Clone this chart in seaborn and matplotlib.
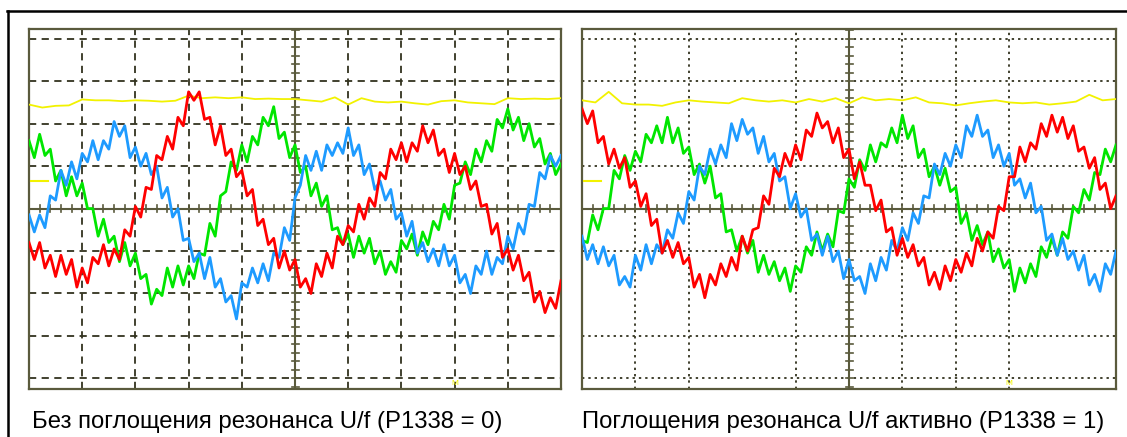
import numpy as np
import pandas as pd
import matplotlib
matplotlib.use('Agg')
import matplotlib.pyplot as plt
from matplotlib.lines import Line2D
import seaborn as sns

# sample index in screen divisions (10 div across, 0.1 div per sample)
t = np.arange(101) / 10
t_yel = np.arange(41) / 4

# --- left scope: P1338 = 0 ---
red_l = [-0.8, -1.2, -0.8, -1.4, -1.1, -1.6, -1.1, -1.55, -1.2, -1.85,
         -1.4, -1.75, -1.15, -1.3, -0.85, -1.35, -0.95, -1.2, -0.5, -0.65,
         0.05, -0.2, 0.5, 0.45, 1.25, 1.15, 1.7, 1.4, 2.15, 1.95,
         2.75, 2.55, 2.75, 2.1, 2.15, 1.5, 1.95, 1.25, 1.4, 0.75,
         0.9, 0.3, 0.45, -0.4, -0.25, -0.85, -0.7, -1.4, -1.0, -1.45,
         -1.2, -1.85, -1.65, -2.0, -1.3, -1.6, -1.05, -1.4, -0.65, -0.85,
         -0.4, -0.55, 0.1, -0.25, 0.25, 0.05, 0.85, 0.7, 1.4, 1.15,
         1.55, 1.1, 1.55, 1.35, 1.95, 1.55, 1.85, 1.25, 1.4, 0.85,
         1.3, 0.8, 1.0, 0.45, 0.65, 0.05, 0.1, -0.6, -0.35, -1.15,
         -0.95, -1.45, -1.1, -1.7, -1.5, -2.2, -1.95, -2.45, -2.1, -2.35,
         -1.7]
green_l = [1.6, 1.2, 1.75, 1.25, 1.4, 0.65, 0.9, 0.3, 0.75, 0.3,
           0.6, 0.0, 0.0, -0.65, -0.25, -0.8, -0.65, -1.25, -0.8, -1.35,
           -1.05, -1.65, -1.55, -2.25, -1.9, -2.05, -1.4, -1.85, -1.35, -1.8,
           -1.35, -1.65, -1.05, -1.1, -0.35, -0.65, 0.3, 0.4, 1.1, 0.9,
           1.5, 1.1, 1.7, 1.5, 2.15, 1.95, 2.4, 1.65, 1.8, 1.2,
           1.5, 0.85, 1.0, 0.3, 0.6, 0.05, 0.3, -0.5, -0.45, -0.85,
           -0.6, -1.15, -0.65, -1.05, -0.7, -1.3, -1.0, -1.55, -1.25, -1.5,
           -0.75, -0.95, -0.6, -1.1, -0.55, -0.85, -0.3, -0.5, 0.1, -0.25,
           0.55, 0.6, 1.1, 0.8, 1.4, 1.1, 1.6, 1.35, 2.1, 1.9,
           2.35, 1.85, 2.15, 1.6, 2.0, 1.45, 1.65, 1.05, 1.3, 0.8,
           1.05]
blue_l = [-0.15, -0.55, -0.15, -0.45, 0.3, 0.2, 0.9, 0.55, 1.1, 0.7,
          1.3, 1.1, 1.6, 1.15, 1.6, 1.4, 2.05, 1.7, 1.95, 1.2,
          1.45, 1.0, 1.3, 0.8, 1.0, 0.25, 0.5, -0.2, 0.0, -0.75,
          -0.7, -1.25, -1.05, -1.65, -1.15, -1.85, -1.65, -2.2, -2.05, -2.6,
          -1.75, -1.85, -1.4, -1.75, -1.3, -1.7, -1.05, -1.15, -0.45, -0.75,
          0.25, 0.55, 1.25, 0.9, 1.35, 0.9, 1.5, 1.25, 1.55, 1.3,
          1.9, 1.25, 1.5, 0.8, 1.05, 0.45, 0.65, 0.2, 0.45, -0.25,
          -0.1, -0.65, -0.3, -1.05, -0.8, -1.25, -0.95, -1.35, -0.85, -1.35,
          -1.1, -1.75, -1.55, -2.0, -1.35, -1.55, -1.0, -1.55, -1.15, -1.3,
          -0.65, -0.95, -0.35, -0.6, 0.1, 0.05, 0.85, 0.7, 1.25, 1.0,
          1.25]
yellow_l = [2.45, 2.38, 2.42, 2.43, 2.57, 2.55, 2.55, 2.53, 2.55, 2.54,
            2.52, 2.54, 2.66, 2.6, 2.62, 2.6, 2.62, 2.58, 2.59, 2.58,
            2.58, 2.55, 2.52, 2.62, 2.45, 2.6, 2.52, 2.5, 2.52, 2.48,
            2.45, 2.53, 2.55, 2.5, 2.48, 2.46, 2.6, 2.58, 2.59, 2.58,
            2.6]

# --- right scope: P1338 = 1 ---
red_r = [2.35, 2.0, 2.3, 1.55, 1.7, 1.05, 1.4, 0.95, 1.2, 0.5,
         0.65, 0.05, 0.35, -0.4, -0.25, -1.05, -0.75, -1.15, -0.8, -1.3,
         -1.15, -1.85, -1.55, -2.1, -1.55, -1.8, -1.3, -1.6, -1.15, -1.45,
         -0.65, -1.0, -0.5, -0.45, 0.3, 0.1, 0.95, 0.75, 1.3, 1.0,
         1.5, 1.15, 1.85, 1.7, 2.25, 1.9, 2.05, 1.55, 1.9, 1.2,
         1.4, 0.7, 1.1, 0.55, 0.55, -0.05, 0.2, -0.55, -0.45, -1.1,
         -0.7, -1.15, -0.85, -1.35, -1.15, -1.8, -1.5, -1.9, -1.35, -1.7,
         -1.2, -1.5, -1.05, -1.35, -0.7, -1.0, -0.55, -0.7, 0.05, -0.05,
         0.75, 0.75, 1.45, 1.1, 1.55, 1.4, 2.0, 1.7, 2.2, 1.8,
         2.15, 1.65, 1.95, 1.35, 1.45, 0.95, 1.2, 0.45, 0.6, 0.0,
         0.3]
green_r = [-0.75, -0.8, -0.15, -0.5, 0.0, 0.0, 0.9, 0.7, 1.25, 0.9,
           1.35, 1.1, 1.75, 1.55, 1.95, 1.55, 2.15, 1.55, 1.9, 1.3,
           1.45, 0.8, 1.05, 0.6, 1.0, 0.25, 0.35, -0.55, -0.5, -1.0,
           -0.65, -1.05, -0.75, -1.5, -1.1, -1.55, -1.25, -1.7, -1.4, -1.95,
           -1.35, -1.5, -0.9, -1.1, -0.55, -1.0, -0.6, -0.9, -0.05, -0.1,
           0.7, 0.5, 1.15, 0.9, 1.5, 1.1, 1.55, 1.45, 1.9, 1.55,
           2.2, 1.65, 1.95, 1.2, 1.4, 0.75, 1.0, 0.55, 0.95, 0.4,
           0.5, -0.35, -0.1, -0.75, -0.4, -0.85, -0.55, -1.25, -0.95, -1.4,
           -1.2, -1.95, -1.4, -1.75, -1.3, -1.6, -0.9, -1.15, -0.7, -1.1,
           -0.55, -0.7, 0.05, -0.1, 0.45, 0.2, 0.85, 0.8, 1.4, 1.1,
           1.5]
blue_r = [-0.65, -1.2, -0.85, -1.3, -0.9, -1.35, -1.1, -1.8, -1.6, -1.85,
          -1.1, -1.45, -0.85, -1.3, -0.85, -1.05, -0.5, -0.7, -0.1, -0.35,
          0.4, 0.2, 1.0, 0.8, 1.4, 1.05, 1.5, 1.2, 2.0, 1.6,
          2.1, 1.75, 1.9, 1.3, 1.7, 1.1, 1.3, 0.65, 0.75, 0.0,
          0.35, -0.2, 0.0, -0.75, -0.6, -1.1, -0.65, -1.25, -1.0, -1.65,
          -1.2, -1.7, -1.6, -2.0, -1.3, -1.7, -1.15, -1.45, -0.75, -1.0,
          -0.45, -0.75, -0.1, -0.35, 0.3, 0.25, 1.05, 0.8, 1.3, 1.0,
          1.5, 1.2, 1.95, 1.7, 2.2, 1.7, 1.85, 1.2, 1.5, 1.0,
          1.3, 0.55, 0.7, 0.25, 0.6, -0.1, 0.05, -0.75, -0.6, -1.1,
          -0.7, -1.2, -1.0, -1.45, -1.1, -1.8, -1.55, -1.95, -1.3, -1.55,
          -1.0]
yellow_r = [2.55, 2.5, 2.75, 2.48, 2.45, 2.45, 2.42, 2.5, 2.55, 2.52,
            2.5, 2.48, 2.6, 2.55, 2.52, 2.55, 2.5, 2.58, 2.52, 2.6,
            2.48, 2.62, 2.55, 2.58, 2.55, 2.62, 2.5, 2.48, 2.43, 2.48,
            2.52, 2.55, 2.5, 2.48, 2.5, 2.45, 2.48, 2.52, 2.68, 2.55,
            2.58]

captions = ['Без поглощения резонанса U/f (P1338 = 0)',
            'Поглощения резонанса U/f активно (P1338 = 1)']

C_RED, C_GREEN, C_BLUE, C_YEL = '#ff0000', '#00e600', '#1e9bff', '#f2f200'
FRAME = '#5a5a3c'
GRIDC = '#33331f'

plt.rcParams['font.family'] = ['Liberation Sans', 'DejaVu Sans']

fig = plt.figure(figsize=(11.27, 4.37), dpi=100)
W, H = 1127, 437


def scope(ax, red, green, blue, yel, gridstyle, skip_x, skip_y):
    ax.set_xlim(0, 10)
    ax.set_ylim(-4.25, 4.23)
    # grid
    for gx in range(1, 10):
        if gx == 5 or gx in skip_x:
            continue
        ax.axvline(gx, color=GRIDC, lw=1.3, ls=gridstyle, zorder=1)
    for gy in [-4, -3, -2, -1, 1, 2, 3, 4]:
        if gy in skip_y:
            continue
        ax.axhline(gy, color=GRIDC, lw=1.3, ls=gridstyle, zorder=1)
    ax.axvline(5, color=FRAME, lw=1.5, zorder=1)
    ax.axhline(0, color=FRAME, lw=1.5, zorder=1)
    # minor ticks along the centre lines
    for m in np.arange(1, 50):
        ax.plot([m / 5, m / 5], [-0.08, 0.08], color=FRAME, lw=1.2, zorder=1)
    for m in np.arange(-21, 22):
        ax.plot([4.94, 5.07], [m / 5, m / 5], color=FRAME, lw=1.2, zorder=1)

    df = pd.DataFrame({'t': t, 'red': red, 'green': green, 'blue': blue})
    dy = pd.DataFrame({'t': t_yel, 'yel': yel})
    sns.lineplot(data=dy, x='t', y='yel', ax=ax, color=C_YEL, lw=1.3,
                 estimator=None, zorder=3)
    sns.lineplot(data=df, x='t', y='green', ax=ax, color=C_GREEN, lw=2.0,
                 estimator=None, zorder=3)
    sns.lineplot(data=df, x='t', y='blue', ax=ax, color=C_BLUE, lw=2.0,
                 estimator=None, zorder=4)
    sns.lineplot(data=df, x='t', y='red', ax=ax, color=C_RED, lw=2.0,
                 estimator=None, zorder=5)
    # channel ground marker and trigger mark
    ax.plot([0.03, 0.35], [0.65, 0.65], color=C_YEL, lw=1.5, zorder=3)
    ax.text(8.0, -4.12, 'M', color=C_YEL, fontsize=6, ha='center',
            va='center', zorder=3)

    ax.set_xticks([])
    ax.set_yticks([])
    ax.set_xlabel('')
    ax.set_ylabel('')
    for s in ax.spines.values():
        s.set_color(FRAME)
        s.set_linewidth(1.6)


ax1 = fig.add_axes([29 / W, (H - 389) / H, (561 - 29) / W, 360 / H])
ax2 = fig.add_axes([582 / W, (H - 389) / H, (1116 - 582) / W, 360 / H])

scope(ax1, red_l, green_l, blue_l, yellow_l, (0, (4, 3)), [], [])
scope(ax2, red_r, green_r, blue_r, yellow_r, (0, (1.3, 2.2)), [3, 9], [2, -2])

fig.text(32 / W, (H - 428) / H, captions[0], fontsize=17.2, ha='left',
         va='baseline')
fig.text(582 / W, (H - 428) / H, captions[1], fontsize=17.2, ha='left',
         va='baseline')

# outer frame (left and top edge)
fig.add_artist(Line2D([7.5 / W, 7.5 / W], [0, (H - 11) / H], color='black',
                      lw=1.8, transform=fig.transFigure))
fig.add_artist(Line2D([6.5 / W, 1], [(H - 11) / H, (H - 11) / H],
                      color='black', lw=1.8, transform=fig.transFigure))

fig.savefig('out.png', dpi=100)
